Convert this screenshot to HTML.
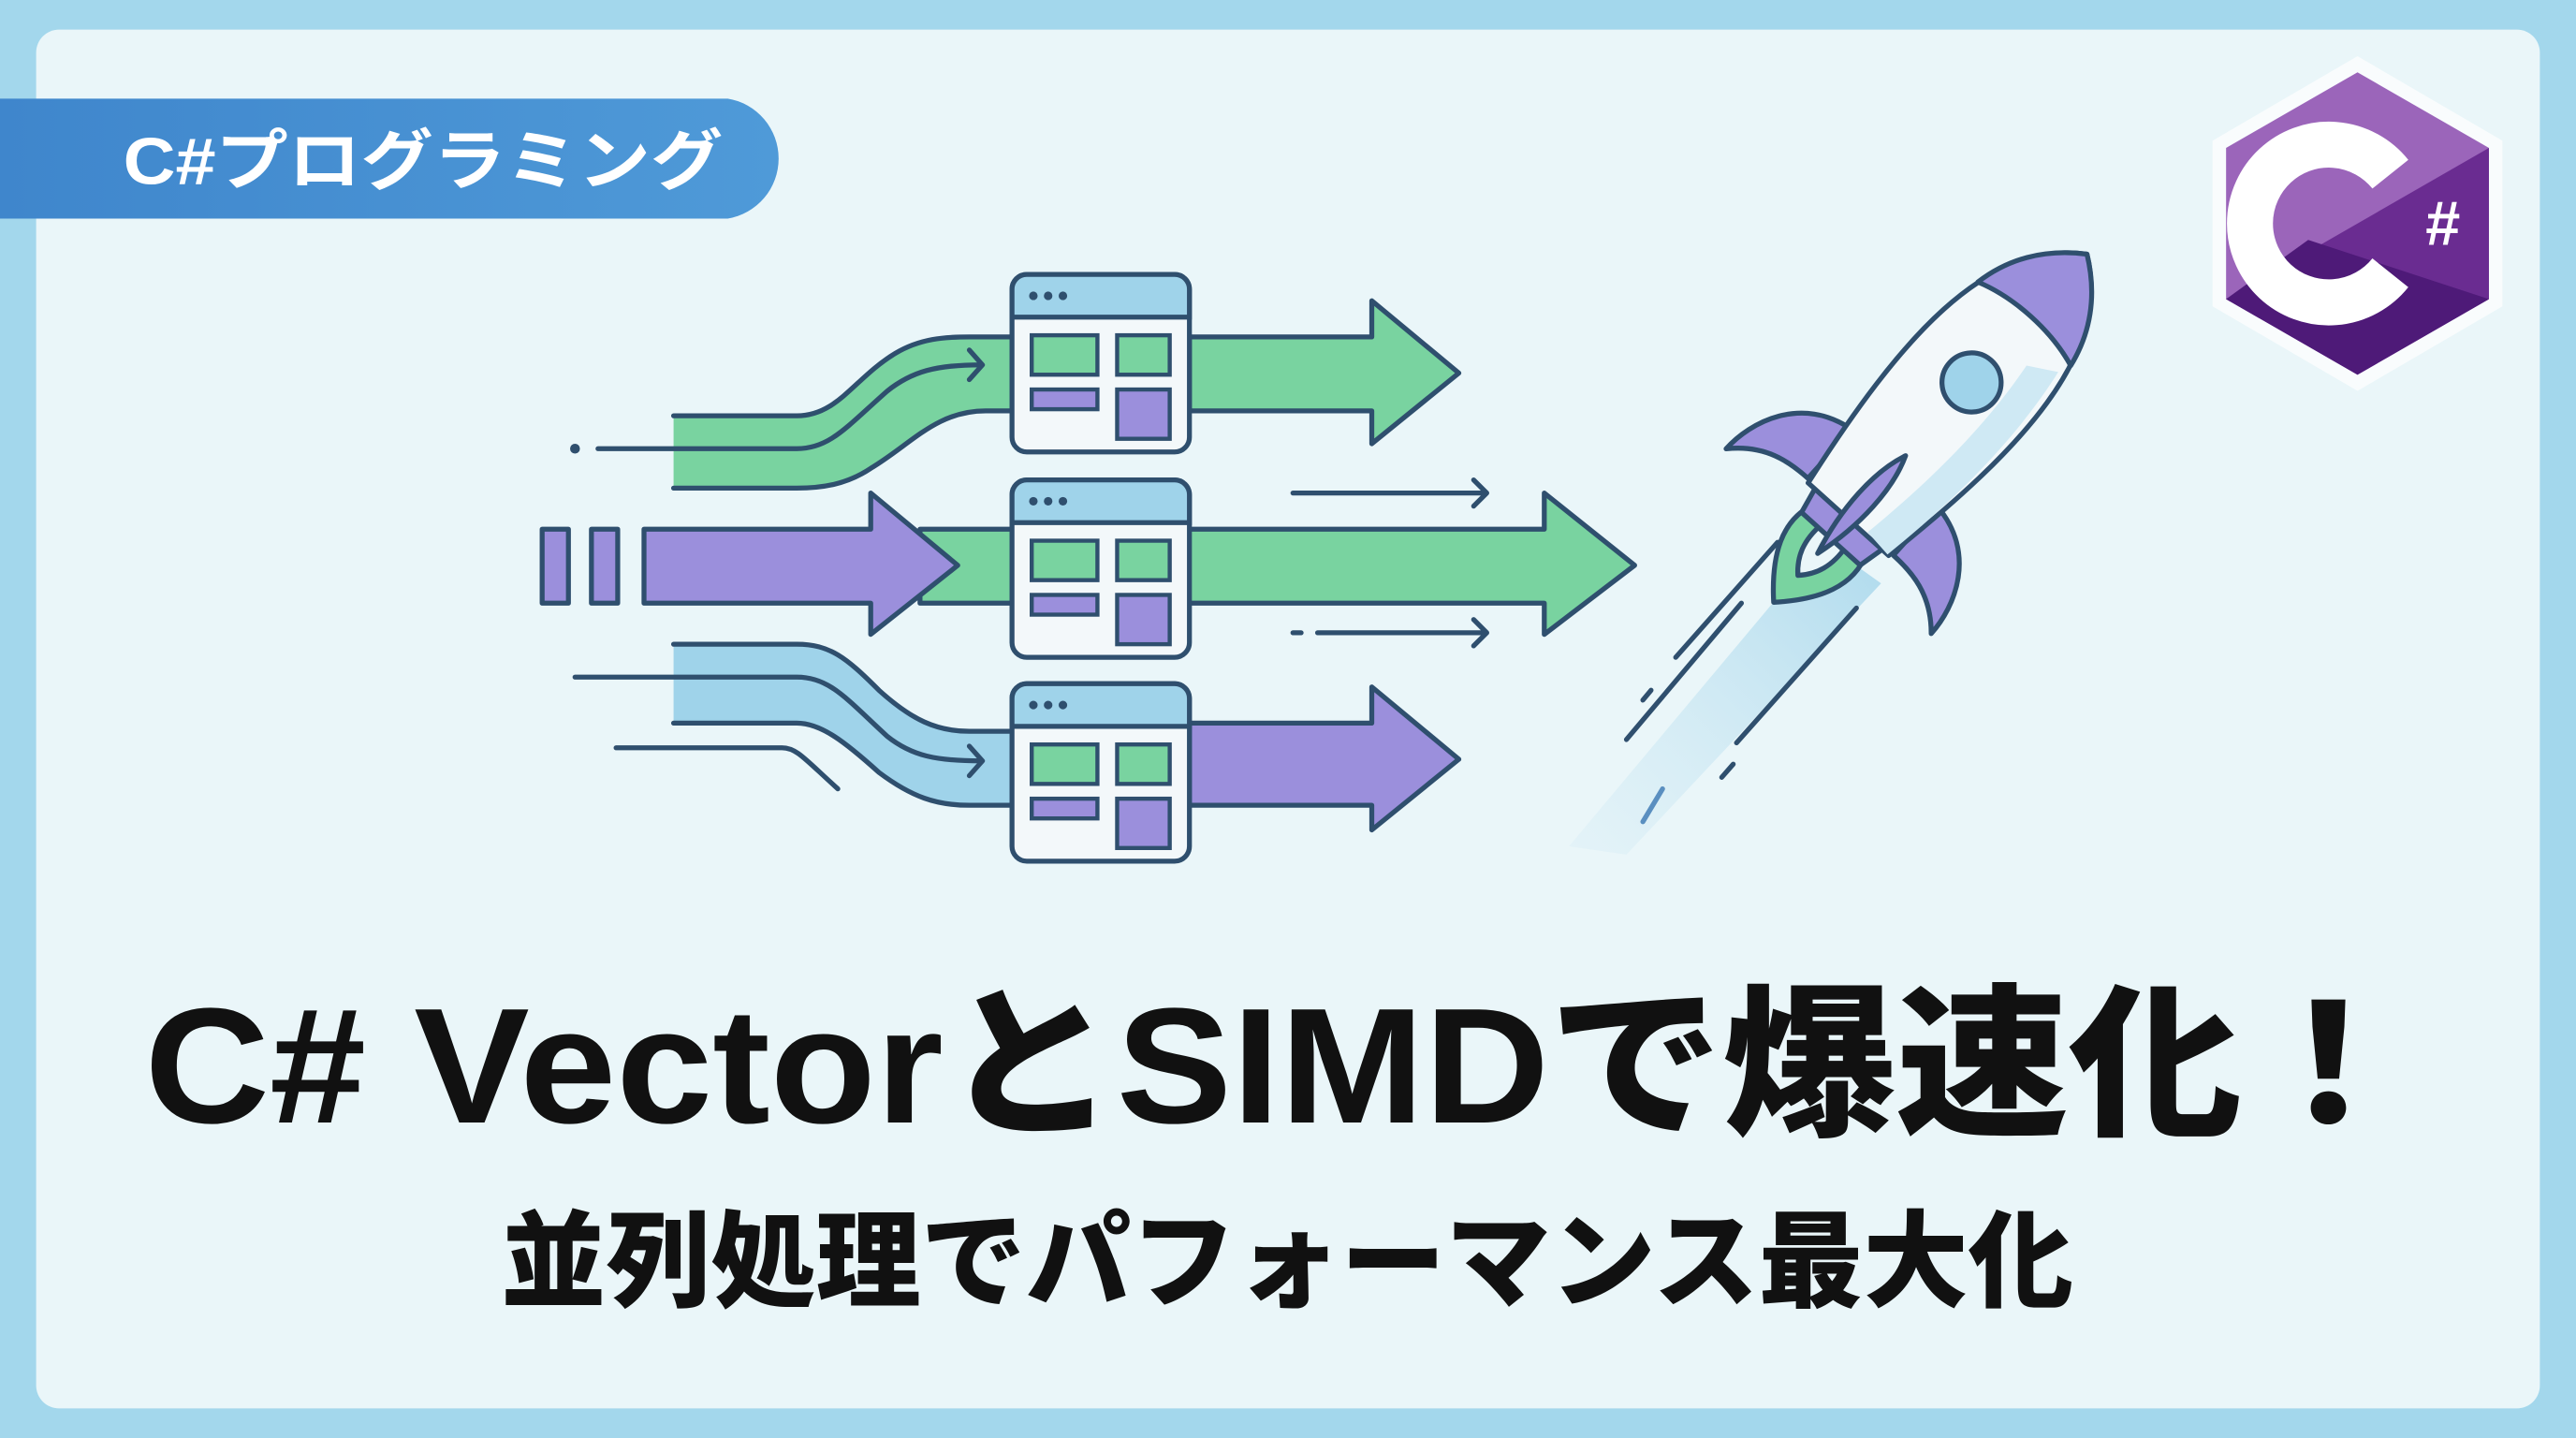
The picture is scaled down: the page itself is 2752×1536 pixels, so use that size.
<!DOCTYPE html>
<html><head><meta charset="utf-8"><style>
html,body{margin:0;padding:0;width:2752px;height:1536px;overflow:hidden;background:#a3d7ec}
svg{display:block}
</style></head><body>
<svg width="2752" height="1536" viewBox="0 0 1568 875" preserveAspectRatio="none" xmlns="http://www.w3.org/2000/svg">
<defs>
<linearGradient id="pill" x1="0" x2="1"><stop offset="0" stop-color="#3f86cc"/><stop offset="1" stop-color="#4f9ad8"/></linearGradient>
<linearGradient id="trail" x1="0" y1="1" x2="1" y2="0"><stop offset="0" stop-color="#cfe9f4" stop-opacity="0.3"/><stop offset="1" stop-color="#9fd3ea"/></linearGradient>
<g id="box">
<rect x="0" y="0" width="108" height="108" rx="9" fill="#f3f8fa" stroke="#2f4f6e" stroke-width="3"/>
<path d="M0 26 V9 a9 9 0 0 1 9 -9 H99 a9 9 0 0 1 9 9 V26 Z" fill="#9fd3ea" stroke="#2f4f6e" stroke-width="3"/>
<circle cx="13" cy="13" r="2.6" fill="#2f4f6e"/><circle cx="22" cy="13" r="2.6" fill="#2f4f6e"/><circle cx="31" cy="13" r="2.6" fill="#2f4f6e"/>
<rect x="12" y="37" width="40" height="24" fill="#79d3a0" stroke="#2f4f6e" stroke-width="2.5"/>
<rect x="64" y="37" width="32" height="24" fill="#79d3a0" stroke="#2f4f6e" stroke-width="2.5"/>
<rect x="12" y="70" width="40" height="12" fill="#9b8fdc" stroke="#2f4f6e" stroke-width="2.5"/>
<rect x="64" y="70" width="32" height="30" fill="#9b8fdc" stroke="#2f4f6e" stroke-width="2.5"/>
</g>
</defs>
<rect x="0" y="0" width="1568" height="875" fill="#a3d7ec"/>
<rect x="22" y="18" width="1524" height="839" rx="14" fill="#eaf6f9"/>
<path d="M0 60 H443 a37 37 0 0 1 0 73 H0 Z" fill="url(#pill)"/>
<text x="75" y="112" font-family="'Liberation Sans','Noto Sans CJK JP',sans-serif" font-weight="bold" font-size="40" fill="#fff" textLength="365" lengthAdjust="spacingAndGlyphs">C#プログラミング</text>

<g stroke="#2f4f6e" stroke-width="3" stroke-linejoin="round" stroke-linecap="round">
<path d="M410 253 H485 C510 253 520 230 545 215 C560 206 575 205 590 205 H620 V250 H600 C570 250 555 270 530 285 C515 295 500 297 485 297 H410 Z" fill="#79d3a0" stroke="none"/>
<path d="M410 253 H485 C510 253 520 230 545 215 C560 206 575 205 590 205 H620" fill="none"/>
<path d="M410 297 H485 C500 297 515 295 530 285 C555 270 570 250 600 250 H620" fill="none"/>
<path d="M364 273 H485 C505 273 515 260 540 238 C555 226 570 222 597 222" fill="none"/>
<path d="M590 213 L598 222 L590 231" fill="none"/>
<circle cx="350" cy="273" r="1.5" fill="#2f4f6e"/>
<path d="M724 205 H835 V183 L888 227 L835 270 V250 H724 Z" fill="#79d3a0"/>
<rect x="330" y="322" width="16" height="45" fill="#9b8fdc"/>
<rect x="360" y="322" width="16" height="45" fill="#9b8fdc"/>
<path d="M560 322 H940 V300 L995 344 L940 386 V367 H560 Z" fill="#79d3a0"/>
<path d="M392 322 H530 V300 L583 344 L530 386 V367 H392 Z" fill="#9b8fdc"/>
<path d="M787 300 H905 M897 292 L905 300 L897 308" fill="none"/>
<path d="M787 385 H792 M802 385 H905 M897 377 L905 385 L897 393" fill="none"/>
<path d="M410 392 H485 C505 392 515 400 535 420 C555 438 570 445 590 445 H620 V490 H590 C570 490 555 485 535 470 C515 452 500 440 485 440 H410 Z" fill="#9fd3ea" stroke="none"/>
<path d="M410 392 H485 C505 392 515 400 535 420 C555 438 570 445 590 445 H620" fill="none"/>
<path d="M410 440 H485 C500 440 515 452 535 470 C555 485 570 490 590 490 H620" fill="none"/>
<path d="M350 412 H485 C505 412 515 425 540 448 C555 460 570 463 597 463" fill="none"/>
<path d="M590 454 L598 463 L590 472" fill="none"/>
<path d="M375 455 H476 C485 455 490 462 510 480" fill="none"/>
<path d="M724 440 H835 V418 L888 462 L835 505 V490 H724 Z" fill="#9b8fdc"/>
</g>
<use href="#box" x="616" y="167"/>
<use href="#box" x="616" y="292"/>
<use href="#box" x="616" y="416"/>

<path d="M1110 330 L1145 355 L990 520 L955 515 Z" fill="url(#trail)" opacity="0.8"/>
<g stroke="#2f4f6e" stroke-width="3" stroke-linecap="round" fill="none">
<path d="M1082 330 L1020 400"/><path d="M1005 420 L1000 426"/><path d="M1060 367 L990 450"/>
<path d="M1130 370 L1057 452"/><path d="M1055 465 L1048 473"/><path d="M1012 480 L1000 500" stroke="#5a8fc0"/>
</g>
<g transform="translate(1180 255) rotate(42)" stroke="#2f4f6e" stroke-width="3" stroke-linejoin="round">
<path d="M-35 40 C-72 45 -84 78 -84 100 C-68 82 -50 80 -35 80 Z" fill="#9b8fdc"/>
<path d="M35 40 C72 45 84 78 84 100 C68 82 50 80 35 80 Z" fill="#9b8fdc"/>
<path d="M-22 90 C-30 110 -20 130 0 150 C20 130 30 110 22 90 Z" fill="#79d3a0"/>
<path d="M-10 95 C-12 110 -8 120 0 128 C8 120 12 110 10 95 Z" fill="#eaf6f9"/>
<path d="M-28 80 L28 80 L24 98 L-24 98 Z" fill="#9b8fdc"/>
<path d="M0 -135 C-52 -100 -50 -20 -33 82 L33 82 C50 -20 52 -100 0 -135 Z" fill="#f3f8fa"/>
<path d="M18 -60 C25 -10 20 40 14 80 L32 82 C42 20 42 -30 35 -70 Z" fill="#cfe9f4" stroke="none"/>
<path d="M0 -135 C-22 -120 -34 -100 -38 -78 C-15 -86 15 -86 38 -78 C34 -100 22 -120 0 -135 Z" fill="#9b8fdc"/>
<circle cx="0" cy="-30" r="18" fill="#9fd3ea"/>
<path d="M0 30 C-8 50 -8 80 0 110 C8 80 8 50 0 30 Z" fill="#9b8fdc"/>
</g>
<g transform="translate(1435 136)">
<polygon points="0,-97 84,-48 84,48 0,97 -84,48 -84,-48" fill="#fff" opacity="0.7" transform="scale(1.05)"/>
<polygon points="0,-92 80,-46 80,46 0,92 -80,46 -80,-46" fill="#9b65ba"/>
<polygon points="80,-46 80,46 0,92 -80,46 Z" fill="#6a2c91" />
<polygon points="80,46 0,92 -80,46 -30,10" fill="#4e1a78"/>
<path d="M28 -30 A48 48 0 1 0 28 30" fill="none" stroke="#fff" stroke-width="28" transform="translate(-8 0)"/>
<text x="52" y="13" font-family="'Liberation Sans',sans-serif" font-weight="bold" font-size="38" fill="#fff" text-anchor="middle">#</text>
</g>
<text x="88" y="683" font-family="'Liberation Sans','Noto Sans CJK JP',sans-serif" font-weight="900" font-size="100" fill="#111" textLength="1382" lengthAdjust="spacingAndGlyphs">C# VectorとSIMDで爆速化！</text>
<text x="305" y="790" font-family="'Noto Sans CJK JP',sans-serif" font-weight="900" font-size="64" fill="#111" textLength="957" lengthAdjust="spacingAndGlyphs">並列処理でパフォーマンス最大化</text>
</svg>
</body></html>
